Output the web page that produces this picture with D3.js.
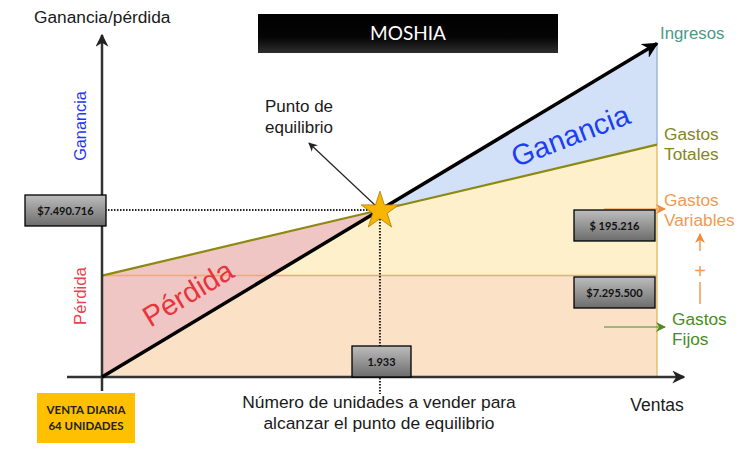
<!DOCTYPE html>
<html><head><meta charset="utf-8">
<script src="https://cdn.jsdelivr.net/npm/d3@7/dist/d3.min.js"></script>
<style>body{margin:0;background:#fff}svg{display:block}</style>
</head><body>
<script>
// ---- data (schematic break-even chart) ----
const unidades = [0, 1933, 3860];
const ingresos = [0, 7490716, 14958000];
const gastosTotales = [4550000, 7490716, 10420000];
const gastosFijos = [4550000, 4550000, 4550000];
const equilibrioUnidades = 1933;
const equilibrioValor = 7490716;
const etiquetasValores = ["$7.490.716", "$ 195.216", "$7.295.500", "1.933"];
const titulo = "MOSHIA";
const ventaDiaria = ["VENTA DIARIA", "64 UNIDADES"];

const W = 743, H = 449;
const svg = d3.select("body").append("svg").attr("width", W).attr("height", H);
const x = d3.scaleLinear().domain([0, 3860]).range([102, 657]);
const y = d3.scaleLinear().domain([0, 15340000]).range([377, 35]);
const F = "'Liberation Sans', Arial, sans-serif";
const C = "Lato, 'Open Sans', sans-serif";

const defs = svg.append("defs");
const g1 = defs.append("linearGradient").attr("id","gbox").attr("x1",0).attr("y1",0).attr("x2",0).attr("y2",1);
g1.append("stop").attr("offset","0%").attr("stop-color","#bdbdbd");
g1.append("stop").attr("offset","100%").attr("stop-color","#6c6c6c");
const g2 = defs.append("linearGradient").attr("id","gtitle").attr("x1",0).attr("y1",0).attr("x2",0).attr("y2",1);
g2.append("stop").attr("offset","0%").attr("stop-color","#000");
g2.append("stop").attr("offset","60%").attr("stop-color","#050505");
g2.append("stop").attr("offset","100%").attr("stop-color","#2e2e2e");
function marker(id, color, size){
  defs.append("marker").attr("id",id).attr("viewBox","0 0 10 10").attr("refX",9).attr("refY",5)
    .attr("markerWidth",size).attr("markerHeight",size).attr("orient","auto").attr("markerUnits","userSpaceOnUse")
    .append("path").attr("d","M0,0 L10,5 L0,10 L3,5 Z").attr("fill",color);
}
marker("mBlack","#000",16); marker("mAxis","#222",13); marker("mThin","#222",9);
marker("mOrange","#f08a3c",10); marker("mGreen","#4a8c22",10);

const pts = (arr) => unidades.map((u,i)=>[x(u), y(arr[i])]);
const P = (a) => "M" + a.map(p=>p.join(",")).join("L") + "Z";

const n = unidades.length - 1;
// fixed cost area
svg.append("path").attr("d", P([[x(0),y(0)],[x(unidades[n]),y(0)],[x(unidades[n]),y(gastosFijos[n])],[x(0),y(gastosFijos[0])]]))
  .attr("fill","#fbe2c7");
// variable cost area
svg.append("path").attr("d", P([...pts(gastosFijos), ...pts(gastosTotales).reverse()]))
  .attr("fill","#fdf0ca");
// ganancia area
svg.append("path").attr("d", P([[x(equilibrioUnidades),y(ingresos[1])],[x(unidades[n]),y(ingresos[n])],[x(unidades[n]),y(gastosTotales[n])]]))
  .attr("fill","#d2e1f7");
// perdida area
svg.append("path").attr("d", P([[x(0),y(gastosTotales[0])],[x(equilibrioUnidades),y(gastosTotales[1])],[x(0),y(ingresos[0])]]))
  .attr("fill","#efc6c4");

// right edge
svg.append("line").attr("x1",x(unidades[n])).attr("x2",x(unidades[n])).attr("y1",y(ingresos[n])).attr("y2",y(gastosTotales[n]))
  .attr("stroke","#9db6d8").attr("stroke-width",1.5);
svg.append("line").attr("x1",x(unidades[n])).attr("x2",x(unidades[n])).attr("y1",y(gastosTotales[n])).attr("y2",y(0))
  .attr("stroke","#e2b24e").attr("stroke-width",1.2);

const line = d3.line().x((d,i)=>x(unidades[i])).y(d=>y(d));
svg.append("path").attr("d", line(gastosFijos)).attr("fill","none").attr("stroke","#f0ad5c").attr("stroke-width",1.5);
svg.append("path").attr("d", line(gastosTotales)).attr("fill","none").attr("stroke","#8c8a12").attr("stroke-width",2.2);

// dotted guides
svg.append("line").attr("x1",x(0)+3).attr("x2",x(equilibrioUnidades)).attr("y1",y(equilibrioValor)).attr("y2",y(equilibrioValor))
  .attr("stroke","#222").attr("stroke-width",2).attr("stroke-dasharray","1.5,1.5");
svg.append("line").attr("x1",x(equilibrioUnidades)).attr("x2",x(equilibrioUnidades)).attr("y1",y(equilibrioValor)).attr("y2",394)
  .attr("stroke","#222").attr("stroke-width",2).attr("stroke-dasharray","1.5,1.5");

// axes
svg.append("line").attr("x1",x(0)).attr("x2",x(0)).attr("y1",391).attr("y2",y.range()[1]).attr("stroke","#333").attr("stroke-width",2.5).attr("marker-end","url(#mAxis)");
svg.append("line").attr("x1",67).attr("x2",684).attr("y1",y(0)).attr("y2",y(0)).attr("stroke","#333").attr("stroke-width",2.5).attr("marker-end","url(#mAxis)");

// ingresos line
svg.append("path").attr("d", line(ingresos)).attr("fill","none").attr("stroke","#000").attr("stroke-width",3.5).attr("marker-end","url(#mBlack)");

// punto de equilibrio arrow
svg.append("line").attr("x1",x(equilibrioUnidades)-4).attr("x2",309).attr("y1",y(equilibrioValor)-4).attr("y2",143)
  .attr("stroke","#222").attr("stroke-width",1.2).attr("marker-end","url(#mThin)");

// star
const star = d3.symbol().type(d3.symbolStar).size(440);
svg.append("path").attr("d",star()).attr("transform",`translate(${x(equilibrioUnidades)},${y(equilibrioValor)+1})`)
  .attr("fill","#f8b500").attr("stroke","#b07a00").attr("stroke-width",0.8);

function txt(t, X, Y, opt={}){
  return svg.append("text").attr("x",X).attr("y",Y).text(t)
    .attr("font-family",opt.ff||F).attr("font-size",opt.fs||15).attr("fill",opt.fill||"#1a1a1a")
    .attr("text-anchor",opt.anchor||"start").attr("font-weight",opt.fw||"normal")
    .attr("transform",opt.rot!=null?`rotate(${opt.rot},${X},${Y})`:null);
}
txt("Ganancia/pérdida", 34, 23, {fs:17.3});
txt("Ganancia", 86, 126, {fill:"#2436f0", rot:-90, anchor:"middle", fs:16.3});
txt("Pérdida", 86, 296, {fill:"#e8434a", rot:-90, anchor:"middle", fs:16.8});
txt("Punto de", 265, 112, {fs:17});
txt("equilibrio", 265, 133, {fs:17});
txt("Pérdida", 193, 302, {fill:"#e8343c", rot:-31, anchor:"middle", fs:29});
txt("Ganancia", 574, 145, {fill:"#1c3ff0", rot:-21, anchor:"middle", fs:29});
txt("Ingresos", 660, 39, {fill:"#4a9a86", fs:16.8});
txt("Gastos", 664, 140, {fill:"#87861a", fs:17.3});
txt("Totales", 664, 160, {fill:"#87861a", fs:17.3});
txt("Gastos", 664, 206, {fill:"#f39a52", fs:17.3});
txt("Variables", 664, 226, {fill:"#f39a52", fs:17.3});
txt("Gastos", 672, 325, {fill:"#4a8c22", fs:17.3});
txt("Fijos", 672, 345, {fill:"#4a8c22", fs:17.3});
txt("+", 700, 278, {fill:"#f39a52", fs:20, anchor:"middle"});
txt("Número de unidades a vender para", 379, 408, {fs:17.4, anchor:"middle"});
txt("alcanzar el punto de equilibrio", 379, 429, {fs:17.4, anchor:"middle"});
txt("Ventas", 657, 411, {fs:17.5, anchor:"middle"});

// small arrows right side
svg.append("line").attr("x1",604).attr("x2",665).attr("y1",209).attr("y2",209).attr("stroke","#f08a3c").attr("stroke-width",1.2).attr("marker-end","url(#mOrange)");
svg.append("line").attr("x1",604).attr("x2",665).attr("y1",327).attr("y2",327).attr("stroke","#4a8c22").attr("stroke-width",1.2).attr("marker-end","url(#mGreen)");
svg.append("line").attr("x1",700).attr("x2",700).attr("y1",251).attr("y2",234).attr("stroke","#f39a52").attr("stroke-width",1.5).attr("marker-end","url(#mOrange)");
svg.append("line").attr("x1",700).attr("x2",700).attr("y1",282).attr("y2",304).attr("stroke","#f39a52").attr("stroke-width",1.5);

// value boxes
const boxes = [
  {t:etiquetasValores[0], x0:25, y0:195, w:81, h:31},
  {t:etiquetasValores[1], x0:574, y0:210, w:81, h:31},
  {t:etiquetasValores[2], x0:574, y0:277, w:81, h:31},
  {t:etiquetasValores[3], x0:352, y0:346, w:59, h:31}
];
boxes.forEach(b=>{
  svg.append("rect").attr("x",b.x0).attr("y",b.y0).attr("width",b.w).attr("height",b.h)
    .attr("fill","url(#gbox)").attr("stroke","#000").attr("stroke-width",1.3);
  txt(b.t, b.x0+b.w/2, b.y0+b.h/2+4, {ff:C, fs:11, anchor:"middle", fw:"bold", fill:"#111"});
});

// title
svg.append("rect").attr("x",258).attr("y",14).attr("width",300).attr("height",39).attr("fill","url(#gtitle)");
txt(titulo, 408, 40, {ff:C, fs:19, anchor:"middle", fill:"#fff"});

// venta diaria
svg.append("rect").attr("x",37).attr("y",393).attr("width",98).attr("height",50).attr("fill","#ffc000");
txt(ventaDiaria[0], 86, 414, {ff:C, fs:11.5, anchor:"middle", fw:"bold", fill:"#222"});
txt(ventaDiaria[1], 86, 430, {ff:C, fs:11.5, anchor:"middle", fw:"bold", fill:"#222"});
</script>
</body></html>
